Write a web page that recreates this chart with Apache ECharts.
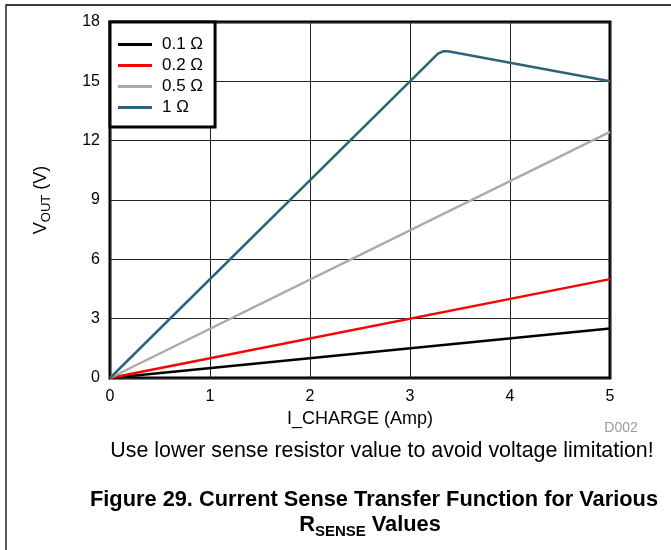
<!DOCTYPE html>
<html><head><meta charset="utf-8">
<script src="https://cdn.jsdelivr.net/npm/echarts@6/dist/echarts.min.js"></script>
<style>html,body{margin:0;padding:0;background:#fff}#c{width:671px;height:550px}</style>
</head><body><div id="c"></div>
<script>
// ---- data ----
const xTicks = [0, 1, 2, 3, 4, 5];
const yTicks = [0, 3, 6, 9, 12, 15, 18];
const seriesNames = ['0.1 Ω', '0.2 Ω', '0.5 Ω', '1 Ω'];
const xLinear = [0, 5];
const v01 = [0, 2.5];
const v02 = [0, 5.0];
const v05 = [0, 12.45];
const x1 = [0, 3.28, 3.33, 3.38, 4, 5];
const v1 = [0, 16.4, 16.52, 16.52, 15.94, 15.0];
const captionText = 'Use lower sense resistor value to avoid voltage limitation!';
const figTitleLine1 = 'Figure 29. Current Sense Transfer Function for Various';
const figTitleParts = ['R', 'SENSE', ' Values'];
const codeText = 'D002';

// ---- style ----
const FONT = '"Liberation Sans", Arial, sans-serif';
const colors = ['#000000', '#ff0000', '#aaaaaa', '#2e6378'];
const pairs = (xs, ys) => xs.map((x, i) => [x, ys[i]]);
const seriesData = [pairs(xLinear, v01), pairs(xLinear, v02), pairs(xLinear, v05), pairs(x1, v1)];

// measure title line-2 parts for layout
const TITLE_FS = 21.8, SUB_FS = 15;
const mctx = document.createElement('canvas').getContext('2d');
function tw(t, fs) { mctx.font = 'bold ' + fs + 'px "Liberation Sans", Arial, sans-serif'; return mctx.measureText(t).width; }
const w0 = tw(figTitleParts[0], TITLE_FS), w1 = tw(figTitleParts[1], SUB_FS), w2 = tw(figTitleParts[2], TITLE_FS);
const line2Start = 370 - (w0 + w1 + w2) / 2;

const chart = echarts.init(document.getElementById('c'), null, { renderer: 'canvas' });
chart.setOption({
  animation: false,
  backgroundColor: '#fff',
  textStyle: { fontFamily: FONT },
  grid: { left: 110, right: 61, top: 22, bottom: 172, show: true, borderColor: '#000', borderWidth: 3, backgroundColor: 'transparent', containLabel: false },
  legend: {
    orient: 'vertical', left: 110, top: 22,
    padding: [13, 12, 10, 8],
    backgroundColor: '#fff', borderColor: '#000', borderWidth: 3, borderRadius: 0,
    icon: 'rect', itemWidth: 34, itemHeight: 3, itemGap: 2,
    textStyle: { fontFamily: FONT, fontSize: 17, color: '#000', lineHeight: 19, padding: [0, 0, 0, 5] },
    data: seriesNames
  },
  xAxis: {
    type: 'value', min: xTicks[0], max: xTicks[xTicks.length - 1], interval: 1,
    name: 'I_CHARGE (Amp)', nameLocation: 'middle', nameGap: 31,
    nameTextStyle: { fontFamily: FONT, fontSize: 18, color: '#000' },
    axisLine: { show: false }, axisTick: { show: false },
    axisLabel: { fontFamily: FONT, fontSize: 16, color: '#000', margin: 11 },
    splitLine: { show: true, lineStyle: { color: '#222', width: 1 } }
  },
  yAxis: {
    type: 'value', min: yTicks[0], max: yTicks[yTicks.length - 1], interval: 3,
    name: '{a|V}{s|OUT}{a| (V)}', nameLocation: 'middle', nameGap: 57,
    nameTextStyle: { fontFamily: FONT, fontSize: 18, color: '#000',
      rich: { a: { fontFamily: FONT, fontSize: 18, color: '#000', verticalAlign: 'middle', lineHeight: 24 },
              s: { fontFamily: FONT, fontSize: 13, color: '#000', verticalAlign: 'bottom', lineHeight: 15 } } },
    axisLine: { show: false }, axisTick: { show: false },
    axisLabel: { fontFamily: FONT, fontSize: 16, color: '#000', margin: 10 },
    splitLine: { show: true, lineStyle: { color: '#222', width: 1 } }
  },
  series: seriesNames.map((n, i) => ({
    name: n, type: 'line', data: seriesData[i], showSymbol: false, symbol: 'none',
    color: colors[i], lineStyle: { color: colors[i], width: 2.5 }, z: 2 + i
  })),
  graphic: [
    { type: 'rect', silent: true, shape: { x: 6, y: 5, width: 900, height: 900 }, style: { fill: 'none', stroke: '#000', lineWidth: 1.3 } },
    { type: 'text', silent: true, x: 621, y: 428, style: { text: codeText, fontFamily: FONT, fontSize: 14, fill: '#9a9a9a', align: 'center', verticalAlign: 'middle' } },
    { type: 'text', silent: true, x: 382, y: 451, style: { text: captionText, fontFamily: FONT, fontSize: 21.4, fill: '#000', align: 'center', verticalAlign: 'middle' } },
    { type: 'text', silent: true, x: 374, y: 500, style: { text: figTitleLine1, fontFamily: FONT, fontSize: TITLE_FS, fontWeight: 'bold', fill: '#000', align: 'center', verticalAlign: 'middle' } },
    { type: 'text', silent: true, x: line2Start, y: 525, style: { text: figTitleParts[0], fontFamily: FONT, fontSize: TITLE_FS, fontWeight: 'bold', fill: '#000', align: 'left', verticalAlign: 'middle' } },
    { type: 'text', silent: true, x: line2Start + w0, y: 532, style: { text: figTitleParts[1], fontFamily: FONT, fontSize: SUB_FS, fontWeight: 'bold', fill: '#000', align: 'left', verticalAlign: 'middle' } },
    { type: 'text', silent: true, x: line2Start + w0 + w1, y: 525, style: { text: figTitleParts[2], fontFamily: FONT, fontSize: TITLE_FS, fontWeight: 'bold', fill: '#000', align: 'left', verticalAlign: 'middle' } }
  ]
});
</script></body></html>
